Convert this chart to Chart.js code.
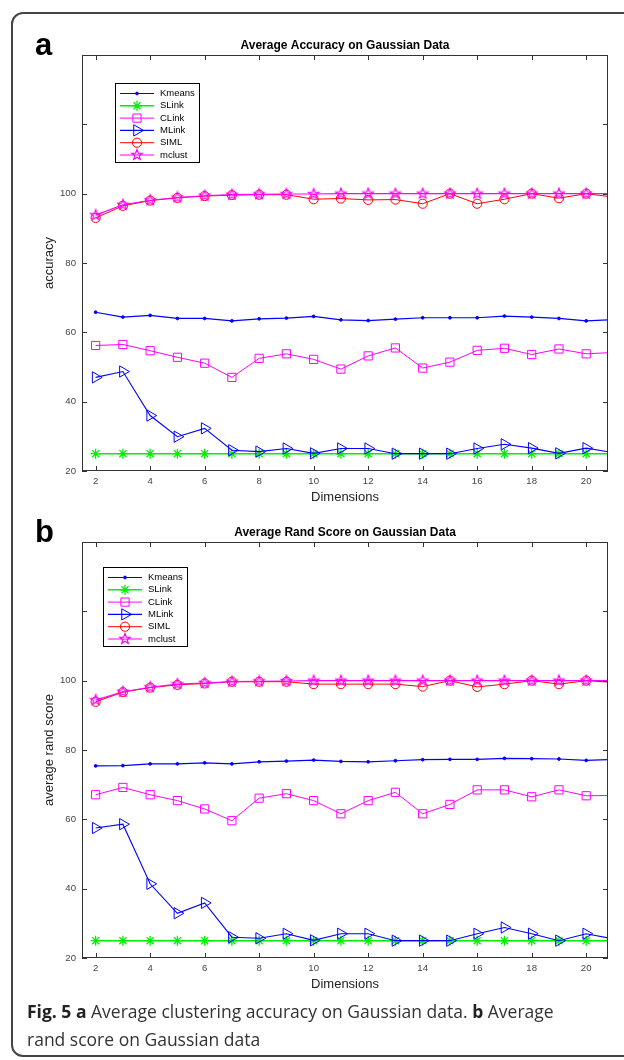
<!DOCTYPE html>
<html>
<head>
<meta charset="utf-8">
<script src="https://cdn.jsdelivr.net/npm/chart.js@4.4.1/dist/chart.umd.min.js"></script>
<style>
  html, body { margin: 0; padding: 0; background: #fff; }
  #page { position: relative; width: 624px; height: 1060px; overflow: hidden; }
  .frame { position: absolute; left: 11px; top: 12px; width: 650px; height: 1045px;
           border: 2px solid #444; border-radius: 12px; box-sizing: border-box; }
  .panel { position: absolute; left: 0; }
  .tag { position: absolute; left: 35px; font: bold 31px/31px "Liberation Sans", Arial, sans-serif; color: #000; }
  .caption { position: absolute; left: 27px; top: 997px; font: 17.5px/28px "Open Sans", sans-serif; color: #333; white-space: nowrap; }
  .caption b { font-weight: 700; color: #222; }
</style>
</head>
<body>
<div id="page">
  <div class="frame"></div>
  <canvas id="chartA" class="panel" width="624" height="510" style="top:0px"></canvas>
  <canvas id="chartB" class="panel" width="624" height="510" style="top:487px"></canvas>
  <div class="tag" style="top:29px">a</div>
  <div class="tag" style="top:516px">b</div>
  <div class="caption"><b>Fig. 5</b> <b>a</b> Average clustering accuracy on Gaussian data. <b>b</b> Average<br>rand score on Gaussian data</div>
</div>

<script>
// --- data ---
const dims = [2, 3, 4, 5, 6, 7, 8, 9, 10, 11, 12, 13, 14, 15, 16, 17, 18, 19, 20, 21];
const xTicks = [2, 4, 6, 8, 10, 12, 14, 16, 18, 20];
const yTicks = [20, 40, 60, 80, 100, 120];
const yTickLabels = ['20', '40', '60', '80', '100', ''];
const seriesNames = ['Kmeans', 'SLink', 'CLink', 'MLink', 'SIML', 'mclust'];

// a: average accuracy
const accKmeans = [65.8, 64.4, 64.9, 64.0, 64.0, 63.3, 63.9, 64.1, 64.6, 63.6, 63.4, 63.8, 64.2, 64.2, 64.2, 64.7, 64.4, 64.0, 63.3, 63.7];
const accSLink  = [25, 25, 25, 25, 25, 25, 25, 25, 25, 25, 25, 25, 25, 25, 25, 25, 25, 25, 25, 25];
const accCLink  = [56.2, 56.5, 54.7, 52.8, 51.1, 47.0, 52.5, 53.8, 52.2, 49.4, 53.2, 55.5, 49.7, 51.4, 54.8, 55.4, 53.6, 55.2, 53.8, 54.2];
const accMLink  = [47.0, 48.7, 36.0, 29.9, 32.3, 26.0, 25.6, 26.5, 25.1, 26.5, 26.5, 25.0, 25.0, 25.0, 26.5, 27.7, 26.6, 25.1, 26.6, 25.3];
const accSIML   = [93.0, 96.5, 98.0, 98.8, 99.3, 99.6, 99.7, 99.7, 98.4, 98.6, 98.2, 98.3, 97.1, 100, 97.1, 98.4, 100, 98.7, 100, 99.0];
const accMclust = [93.8, 96.8, 98.1, 98.9, 99.4, 99.7, 99.8, 99.9, 99.9, 100, 100, 100, 100, 100, 100, 100, 100, 100, 100, 100];

// b: average rand score
const randKmeans = [75.4, 75.5, 76.0, 76.0, 76.3, 76.0, 76.6, 76.8, 77.1, 76.7, 76.6, 76.9, 77.2, 77.3, 77.3, 77.6, 77.5, 77.4, 77.0, 77.3];
const randSLink  = [25, 25, 25, 25, 25, 25, 25, 25, 25, 25, 25, 25, 25, 25, 25, 25, 25, 25, 25, 25];
const randCLink  = [67.1, 69.2, 67.1, 65.4, 63.0, 59.6, 66.1, 67.4, 65.4, 61.6, 65.4, 67.8, 61.6, 64.3, 68.5, 68.5, 66.5, 68.5, 66.8, 66.9];
const randMLink  = [57.5, 58.6, 41.4, 32.9, 35.9, 26.0, 25.7, 27.0, 25.1, 27.0, 27.0, 25.0, 25.0, 25.0, 27.0, 28.8, 27.0, 25.0, 27.0, 25.5];
const randSIML   = [93.9, 96.7, 98.0, 98.8, 99.2, 99.7, 99.7, 99.7, 99.0, 99.0, 99.0, 99.0, 98.3, 100, 98.2, 99.0, 100, 99.0, 100, 99.5];
const randMclust = [94.4, 96.8, 98.1, 99.0, 99.3, 99.7, 99.8, 99.9, 100, 100, 100, 100, 100, 100, 100, 100, 100, 100, 100, 100];

const FONT = '"Liberation Sans", Arial, Helvetica, sans-serif';

// pentagram marker for mclust (Chart.js has no built-in one)
function makePentagram(color, r) {
    const size = Math.ceil(r * 2 + 3);
    const c = document.createElement('canvas');
    c.width = c.height = size;
    const g = c.getContext('2d');
    g.strokeStyle = color;
    g.lineWidth = 1.2;
    g.beginPath();
    for (let k = 0; k < 10; k++) {
        const rr = k % 2 ? r * 0.42 : r;
        const ang = -Math.PI / 2 + k * Math.PI / 5;
        const px = size / 2 + rr * Math.cos(ang), py = size / 2 + rr * Math.sin(ang);
        if (k === 0) g.moveTo(px, py); else g.lineTo(px, py);
    }
    g.closePath();
    g.stroke();
    return c;
}
const pentagram = makePentagram('#ff00ff', 5.5);

// line / marker look for each series (MATLAB-like)
const looks = [
    { color: '#0000ff', width: 1.2, style: 'circle',   radius: 1.4, fill: '#0000ff', pw: 1 },
    { color: '#00ee00', width: 1.5, style: 'star',     radius: 5,   fill: 'rgba(0,0,0,0)', pw: 1.3 },
    { color: '#ff00ff', width: 1,   style: 'rect',     radius: 5.8, fill: 'rgba(0,0,0,0)', pw: 1 },
    { color: '#0000ff', width: 1.1, style: 'triangle', radius: 6.5, fill: 'rgba(0,0,0,0)', pw: 1, rot: 90 },
    { color: '#ff0000', width: 1,   style: 'circle',   radius: 4.6, fill: 'rgba(0,0,0,0)', pw: 1 },
    { color: '#ff00ff', width: 1.2, style: pentagram,  radius: 5,   fill: 'rgba(0,0,0,0)', pw: 1 }
];

// box around the plot with inward ticks on all four sides
const matlabBox = {
    id: 'matlabBox',
    afterDatasetsDraw(chart) {
        const { ctx, chartArea: a, scales: { x, y } } = chart;
        ctx.save();
        ctx.strokeStyle = '#333';
        ctx.lineWidth = 1;
        ctx.beginPath();
        x.ticks.forEach(t => {
            const px = Math.round(x.getPixelForValue(t.value)) + 0.5;
            ctx.moveTo(px, a.bottom); ctx.lineTo(px, a.bottom - 5);
            ctx.moveTo(px, a.top); ctx.lineTo(px, a.top + 5);
        });
        y.ticks.forEach(t => {
            const py = Math.round(y.getPixelForValue(t.value)) + 0.5;
            ctx.moveTo(a.left, py); ctx.lineTo(a.left + 5, py);
            ctx.moveTo(a.right, py); ctx.lineTo(a.right - 5, py);
        });
        ctx.stroke();
        ctx.strokeRect(a.left + 0.5, a.top + 0.5, a.right - a.left - 1, a.bottom - a.top - 1);
        ctx.restore();
    }
};

// boxed legend inside the plot, line + marker sample per series
const boxLegend = {
    id: 'boxLegend',
    afterDraw(chart, args, opts) {
        const ctx = chart.ctx;
        const left = opts.left, top = opts.top;
        const w = 84, h = 79, rowH = 12.3;
        ctx.save();
        ctx.fillStyle = '#fff';
        ctx.fillRect(left, top, w, h);
        ctx.strokeStyle = '#000';
        ctx.lineWidth = 1;
        ctx.strokeRect(left + 0.5, top + 0.5, w, h);
        chart.data.datasets.forEach((ds, i) => {
            const yy = top + 10.5 + i * rowH;
            ctx.strokeStyle = ds.borderColor;
            ctx.lineWidth = ds.borderWidth;
            ctx.beginPath();
            ctx.moveTo(left + 5, yy);
            ctx.lineTo(left + 39, yy);
            ctx.stroke();
            ctx.fillStyle = ds.pointBackgroundColor;
            ctx.strokeStyle = ds.pointBorderColor;
            ctx.lineWidth = ds.pointBorderWidth;
            Chart.helpers.drawPoint(ctx, {
                pointStyle: ds.pointStyle,
                radius: ds.pointRadius,
                rotation: ds.pointRotation || 0,
                borderWidth: ds.pointBorderWidth
            }, left + 22, yy);
            ctx.fillStyle = '#000';
            ctx.font = '9.5px ' + FONT;
            ctx.textBaseline = 'middle';
            ctx.textAlign = 'left';
            ctx.fillText(ds.label, left + 45, yy);
        });
        ctx.restore();
    }
};

function makeChart(id, title, yLabel, seriesValues, legendAt) {
    const datasets = seriesValues.map((vals, i) => {
        const lk = looks[i];
        return {
            label: seriesNames[i],
            data: dims.map((d, j) => ({ x: d, y: vals[j] })),
            borderColor: lk.color,
            borderWidth: lk.width,
            pointStyle: lk.style,
            pointRadius: lk.radius,
            pointRotation: lk.rot || 0,
            pointBackgroundColor: lk.fill,
            pointBorderColor: lk.color,
            pointBorderWidth: lk.pw,
            tension: 0,
            fill: false,
            clip: 0,
            order: seriesNames.length - 1 - i
        };
    });

    return new Chart(document.getElementById(id).getContext('2d'), {
        type: 'line',
        data: { datasets },
        options: {
            responsive: false,
            animation: false,
            devicePixelRatio: 1,
            layout: { padding: { left: 0, right: 16, top: 0, bottom: 0 } },
            scales: {
                x: {
                    type: 'linear',
                    min: 1.5,
                    max: 20.8,
                    afterBuildTicks: s => { s.ticks = xTicks.map(v => ({ value: v })); },
                    afterFit: s => { s.height = 39; },
                    grid: { display: false, drawTicks: false },
                    border: { display: false },
                    ticks: { color: '#444', font: { size: 9.6, family: FONT }, padding: 4.5, maxRotation: 0, autoSkip: false },
                    title: { display: true, text: 'Dimensions', color: '#222', font: { size: 13, family: FONT }, padding: { top: 0, bottom: 5 } }
                },
                y: {
                    type: 'linear',
                    min: 20,
                    max: 140,
                    afterBuildTicks: s => { s.ticks = yTicks.map(v => ({ value: v })); },
                    afterFit: s => { s.width = 82; },
                    grid: { display: false, drawTicks: false },
                    border: { display: false },
                    ticks: {
                        color: '#444', font: { size: 9.6, family: FONT }, padding: 6,
                        callback: (v, i) => yTickLabels[i]
                    },
                    title: { display: true, text: yLabel, color: '#222', font: { size: 13, family: FONT }, padding: { top: 42, bottom: 0 } }
                }
            },
            plugins: {
                legend: { display: false },
                tooltip: { enabled: false },
                title: {
                    display: true,
                    text: title,
                    fullSize: false,
                    color: '#000',
                    font: { size: 12, weight: 'bold', family: FONT },
                    padding: { top: 38.8, bottom: 1.8 }
                },
                boxLegend: legendAt
            }
        },
        plugins: [matlabBox, boxLegend]
    });
}

makeChart('chartA', 'Average Accuracy on Gaussian Data', 'accuracy',
    [accKmeans, accSLink, accCLink, accMLink, accSIML, accMclust], { left: 115, top: 83 });
makeChart('chartB', 'Average Rand Score on Gaussian Data', 'average rand score',
    [randKmeans, randSLink, randCLink, randMLink, randSIML, randMclust], { left: 103, top: 80 });
</script>
</body>
</html>
